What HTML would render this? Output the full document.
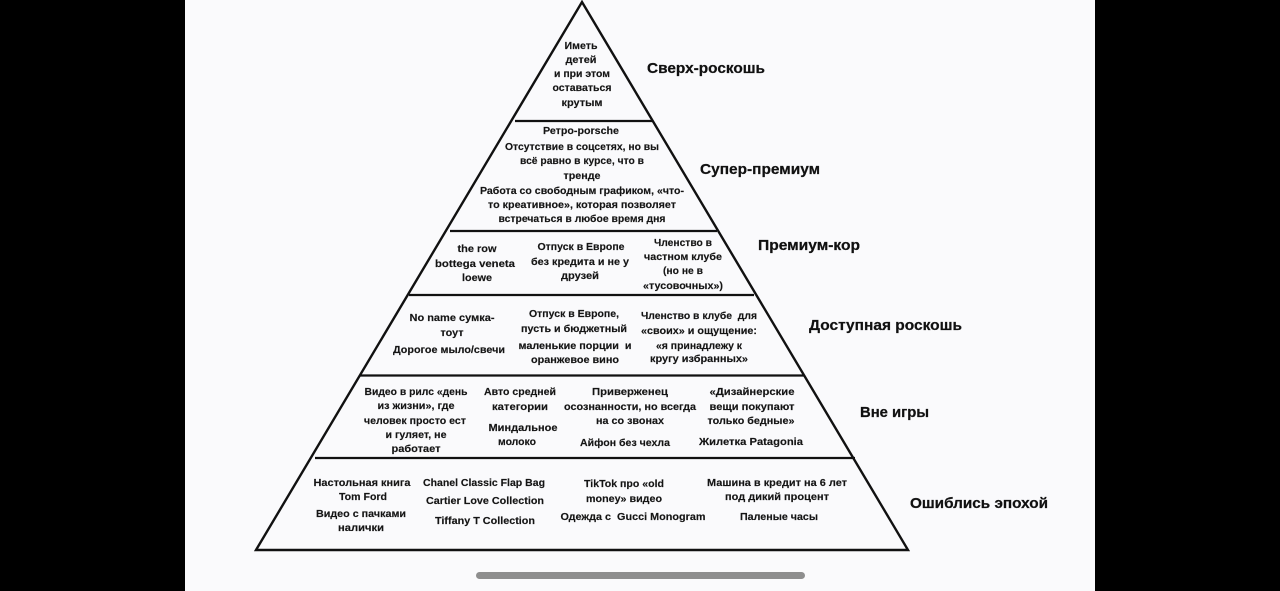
<!DOCTYPE html>
<html lang="ru"><head><meta charset="utf-8"><title>Пирамида роскоши</title>
<style>
html,body{margin:0;padding:0;background:#000;width:1280px;height:591px;overflow:hidden}
svg{display:block}
text{font-family:"Liberation Sans","DejaVu Sans",sans-serif;font-weight:700;fill:#151515;text-anchor:middle;white-space:pre}
.t{font-size:10.5px;stroke:#151515;stroke-width:.15px}
.h{font-size:15px;text-anchor:start;fill:#111;stroke:#111;stroke-width:.25px}
</style></head><body>
<svg width="1280" height="591" viewBox="0 0 1280 591" xmlns="http://www.w3.org/2000/svg">
<rect width="1280" height="591" fill="#000"/>
<rect x="185" width="910" height="591" fill="#fafafc"/>
<polygon points="582,2 908,550 256,550" fill="none" stroke="#111" stroke-width="2.4" stroke-linejoin="miter"/>
<g stroke="#111" stroke-width="2.2">
<line x1="515" y1="121" x2="652" y2="121"/>
<line x1="450" y1="231" x2="717" y2="231"/>
<line x1="409" y1="295" x2="754" y2="295"/>
<line x1="360" y1="375.500" x2="804" y2="375.500"/>
<line x1="315" y1="458" x2="855" y2="458"/>
</g>
<rect x="476" y="572" width="329" height="7" rx="3.500" fill="#8e8e8e"/>

<g class="t">
<text class="t" x="581" y="49" textLength="33" lengthAdjust="spacingAndGlyphs">Иметь</text>
<text class="t" x="581" y="63" textLength="31" lengthAdjust="spacingAndGlyphs">детей</text>
<text class="t" x="582" y="77" textLength="56" lengthAdjust="spacingAndGlyphs">и при этом</text>
<text class="t" x="582" y="91" textLength="59" lengthAdjust="spacingAndGlyphs">оставаться</text>
<text class="t" x="582" y="106" textLength="41" lengthAdjust="spacingAndGlyphs">крутым</text>

<text class="t" x="581" y="134" textLength="76" lengthAdjust="spacingAndGlyphs">Ретро-porsche</text>
<text class="t" x="582" y="150" textLength="154" lengthAdjust="spacingAndGlyphs">Отсутствие в соцсетях, но вы</text>
<text class="t" x="582" y="164" textLength="124" lengthAdjust="spacingAndGlyphs">всё равно в курсе, что в</text>
<text class="t" x="582" y="179" textLength="37" lengthAdjust="spacingAndGlyphs">тренде</text>
<text class="t" x="582" y="194" textLength="204" lengthAdjust="spacingAndGlyphs">Работа со свободным графиком, «что-</text>
<text class="t" x="582" y="208" textLength="188" lengthAdjust="spacingAndGlyphs">то креативное», которая позволяет</text>
<text class="t" x="582" y="222" textLength="167" lengthAdjust="spacingAndGlyphs">встречаться в любое время дня</text>

<text class="t" x="477" y="252" textLength="39" lengthAdjust="spacingAndGlyphs">the row</text>
<text class="t" x="475" y="267" textLength="80" lengthAdjust="spacingAndGlyphs">bottega veneta</text>
<text class="t" x="477" y="281" textLength="30" lengthAdjust="spacingAndGlyphs">loewe</text>
<text class="t" x="581" y="250" textLength="87" lengthAdjust="spacingAndGlyphs">Отпуск в Европе</text>
<text class="t" x="580" y="265" textLength="98" lengthAdjust="spacingAndGlyphs">без кредита и не у</text>
<text class="t" x="580" y="279" textLength="38" lengthAdjust="spacingAndGlyphs">друзей</text>
<text class="t" x="683" y="246" textLength="58" lengthAdjust="spacingAndGlyphs">Членство в</text>
<text class="t" x="683" y="260" textLength="78" lengthAdjust="spacingAndGlyphs">частном клубе</text>
<text class="t" x="683" y="274" textLength="40" lengthAdjust="spacingAndGlyphs">(но не в</text>
<text class="t" x="683" y="289" textLength="80" lengthAdjust="spacingAndGlyphs">«тусовочных»)</text>

<text class="t" x="452" y="321" textLength="85" lengthAdjust="spacingAndGlyphs">No name сумка-</text>
<text class="t" x="452" y="336" textLength="23" lengthAdjust="spacingAndGlyphs">тоут</text>
<text class="t" x="449" y="353" textLength="112" lengthAdjust="spacingAndGlyphs">Дорогое мыло/свечи</text>
<text class="t" x="574" y="317" textLength="90" lengthAdjust="spacingAndGlyphs">Отпуск в Европе,</text>
<text class="t" x="574" y="332" textLength="106" lengthAdjust="spacingAndGlyphs">пусть и бюджетный</text>
<text class="t" x="575" y="349" textLength="113" lengthAdjust="spacingAndGlyphs">маленькие порции  и</text>
<text class="t" x="575" y="363" textLength="88" lengthAdjust="spacingAndGlyphs">оранжевое вино</text>
<text class="t" x="699" y="319" textLength="116" lengthAdjust="spacingAndGlyphs">Членство в клубе  для</text>
<text class="t" x="699" y="334" textLength="116" lengthAdjust="spacingAndGlyphs">«своих» и ощущение:</text>
<text class="t" x="699" y="349" textLength="86" lengthAdjust="spacingAndGlyphs">«я принадлежу к</text>
<text class="t" x="699" y="362" textLength="98" lengthAdjust="spacingAndGlyphs">кругу избранных»</text>

<text class="t" x="416" y="395" textLength="103" lengthAdjust="spacingAndGlyphs">Видео в рилс «день</text>
<text class="t" x="416" y="409" textLength="77" lengthAdjust="spacingAndGlyphs">из жизни», где</text>
<text class="t" x="415" y="424" textLength="102" lengthAdjust="spacingAndGlyphs">человек просто ест</text>
<text class="t" x="416" y="438" textLength="61" lengthAdjust="spacingAndGlyphs">и гуляет, не</text>
<text class="t" x="416" y="452" textLength="49" lengthAdjust="spacingAndGlyphs">работает</text>
<text class="t" x="520" y="395" textLength="72" lengthAdjust="spacingAndGlyphs">Авто средней</text>
<text class="t" x="520" y="410" textLength="56" lengthAdjust="spacingAndGlyphs">категории</text>
<text class="t" x="523" y="431" textLength="69" lengthAdjust="spacingAndGlyphs">Миндальное</text>
<text class="t" x="517" y="445" textLength="38" lengthAdjust="spacingAndGlyphs">молоко</text>
<text class="t" x="630" y="395" textLength="76" lengthAdjust="spacingAndGlyphs">Приверженец</text>
<text class="t" x="630" y="410" textLength="132" lengthAdjust="spacingAndGlyphs">осознанности, но всегда</text>
<text class="t" x="630" y="424" textLength="68" lengthAdjust="spacingAndGlyphs">на со звонах</text>
<text class="t" x="625" y="446" textLength="90" lengthAdjust="spacingAndGlyphs">Айфон без чехла</text>
<text class="t" x="752" y="395" textLength="85" lengthAdjust="spacingAndGlyphs">«Дизайнерские</text>
<text class="t" x="752" y="410" textLength="85" lengthAdjust="spacingAndGlyphs">вещи покупают</text>
<text class="t" x="751" y="424" textLength="87" lengthAdjust="spacingAndGlyphs">только бедные»</text>
<text class="t" x="751" y="445" textLength="104" lengthAdjust="spacingAndGlyphs">Жилетка Patagonia</text>

<text class="t" x="362" y="486" textLength="97" lengthAdjust="spacingAndGlyphs">Настольная книга</text>
<text class="t" x="363" y="500" textLength="48" lengthAdjust="spacingAndGlyphs">Tom Ford</text>
<text class="t" x="361" y="517" textLength="90" lengthAdjust="spacingAndGlyphs">Видео с пачками</text>
<text class="t" x="361" y="531" textLength="46" lengthAdjust="spacingAndGlyphs">налички</text>
<text class="t" x="484" y="486" textLength="122" lengthAdjust="spacingAndGlyphs">Chanel Classic Flap Bag</text>
<text class="t" x="485" y="504" textLength="118" lengthAdjust="spacingAndGlyphs">Cartier Love Collection</text>
<text class="t" x="485" y="524" textLength="100" lengthAdjust="spacingAndGlyphs">Tiffany T Collection</text>
<text class="t" x="624" y="487" textLength="80" lengthAdjust="spacingAndGlyphs">TikTok про «old</text>
<text class="t" x="624" y="502" textLength="76" lengthAdjust="spacingAndGlyphs">money» видео</text>
<text class="t" x="633" y="520" textLength="145" lengthAdjust="spacingAndGlyphs">Одежда с  Gucci Monogram</text>
<text class="t" x="777" y="486" textLength="140" lengthAdjust="spacingAndGlyphs">Машина в кредит на 6 лет</text>
<text class="t" x="777" y="500" textLength="104" lengthAdjust="spacingAndGlyphs">под дикий процент</text>
<text class="t" x="779" y="520" textLength="78" lengthAdjust="spacingAndGlyphs">Паленые часы</text>
</g>

<text class="h" x="647" y="73" textLength="118" lengthAdjust="spacingAndGlyphs">Сверх-роскошь</text>
<text class="h" x="700" y="174" textLength="120" lengthAdjust="spacingAndGlyphs">Супер-премиум</text>
<text class="h" x="758" y="250" textLength="102" lengthAdjust="spacingAndGlyphs">Премиум-кор</text>
<text class="h" x="809" y="330" textLength="153" lengthAdjust="spacingAndGlyphs">Доступная роскошь</text>
<text class="h" x="860" y="417" textLength="69" lengthAdjust="spacingAndGlyphs">Вне игры</text>
<text class="h" x="910" y="508" textLength="138" lengthAdjust="spacingAndGlyphs">Ошиблись эпохой</text>
</svg>
</body></html>
